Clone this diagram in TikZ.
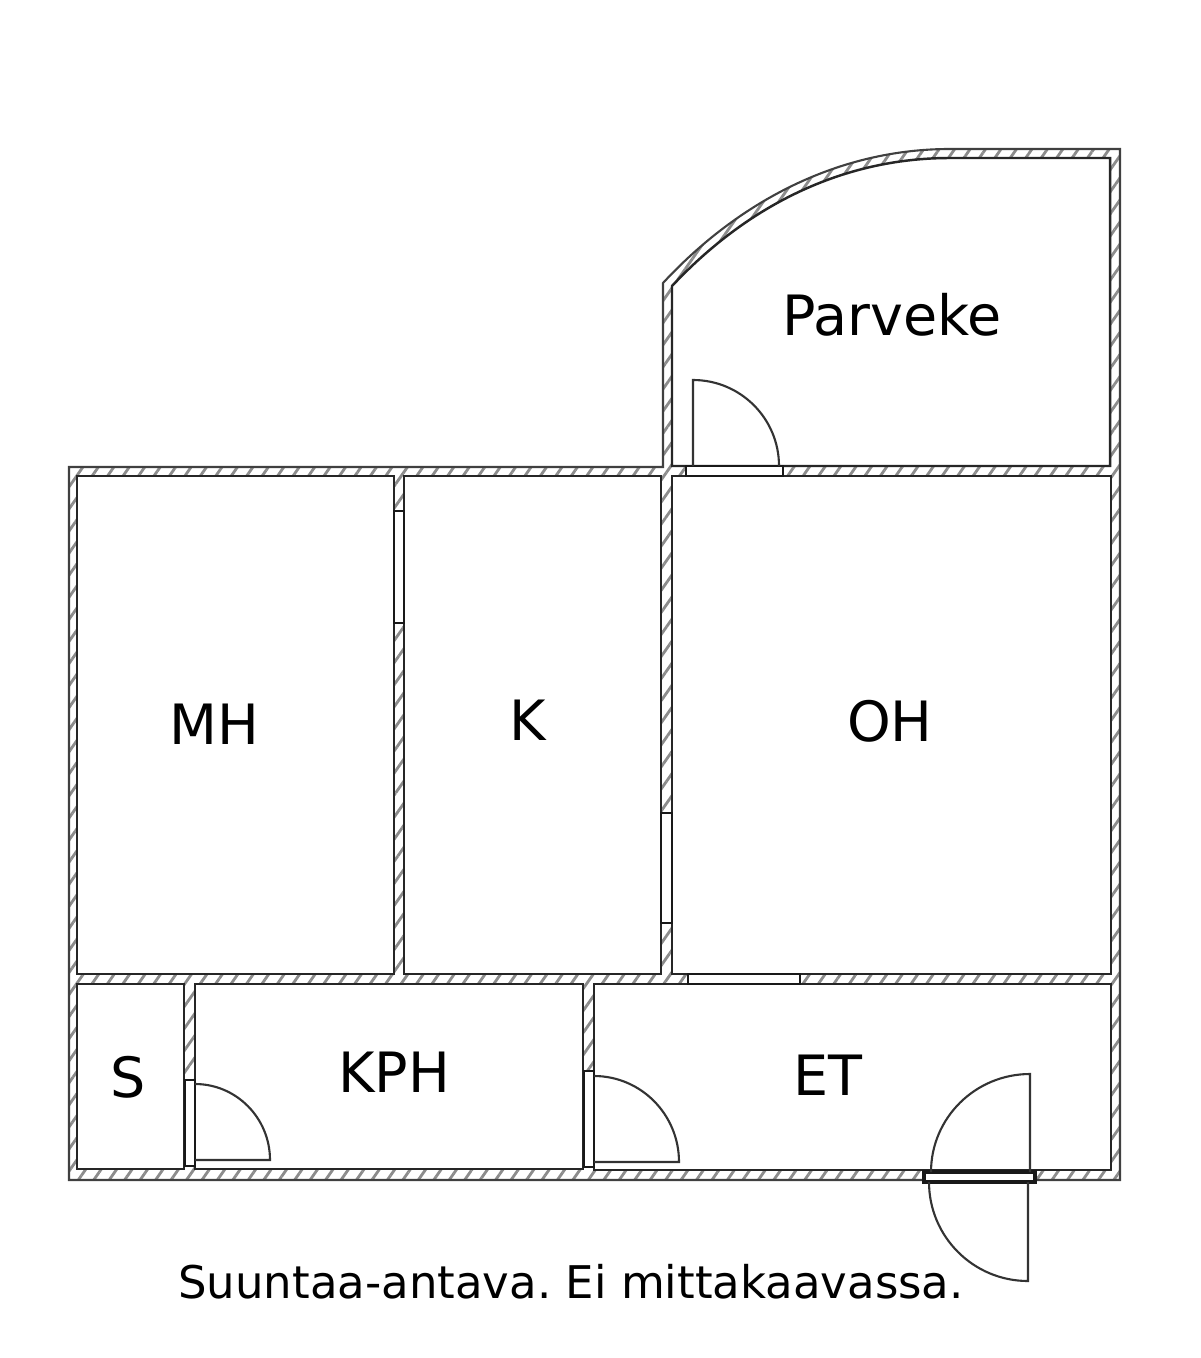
\documentclass[tikz,border=0pt]{standalone}
\usepackage{fontspec}
\setmainfont{DejaVu Sans}
\usetikzlibrary{patterns.meta}

\begin{document}
\begin{tikzpicture}[x=0.01cm, y=-0.01cm,
wall/.style={draw=black!75, line width=0.6pt, pattern={Lines[angle=55,distance=3.6pt,line width=0.8pt]}, pattern color=black!45},
room/.style={draw=black!85, line width=0.7pt, fill=white},
opening/.style={draw=black!90, line width=0.8pt, fill=white},
swing/.style={draw=black!80, line width=0.6pt},
roomlabel/.style={font=\fontsize{15.8pt}{18pt}\selectfont, inner sep=0pt},
note/.style={font=\fontsize{12.8pt}{16pt}\selectfont\frenchspacing, inner sep=0pt}
]
\useasboundingbox (0,0) rectangle (1200,1358);

%draw walls
\path[wall] (69,467) -- (663,467) -- (663,283) .. controls (740,200) and (840,149) .. (950,149) -- (1120,149) -- (1120,1180) -- (69,1180) -- cycle;

%draw rooms
\path[room] (77,476) rectangle (394,974);
\path[room] (404,476) rectangle (661,974);
\path[room] (672,476) rectangle (1111,974);
\path[room] (77,984) rectangle (184,1169);
\path[room] (195,984) rectangle (583,1169);
\path[room] (594,984) rectangle (1111,1170);
\path[room] (672,286) .. controls (747,206) and (842,158) .. (950,158) -- (1110,158) -- (1110,466) -- (672,466) -- cycle;

%draw openings
\path[opening] (686,466) rectangle (783,476);
\path[opening] (394,511) rectangle (404,623);
\path[opening] (661,813) rectangle (672,923);
\path[opening] (688,974) rectangle (800,984);
\path[opening] (185,1080) rectangle (195,1166);
\path[opening] (584,1071) rectangle (594,1167);
\path[opening, line width=1.3pt] (924,1172) rectangle (1035,1182);

%draw door swings
\draw[swing] (693,466) -- (693,380) arc [start angle=90, end angle=0, x radius=86, y radius=-86];
\draw[swing] (195,1084) arc [start angle=90, end angle=0, x radius=75, y radius=-76] -- (195,1160);
\draw[swing] (594,1076) arc [start angle=90, end angle=0, x radius=85, y radius=-86] -- (594,1162);
\draw[swing] (1030,1172) -- (1030,1074) arc [start angle=90, end angle=180, x radius=99, y radius=-98];
\draw[swing] (1028,1182) -- (1028,1281) arc [start angle=-90, end angle=-180, x radius=99, y radius=-99];

%room labels
\node[roomlabel] (parveke) at (892,315) {Parveke};
\node[roomlabel] (mh) at (214,724) {MH};
\node[roomlabel] (k) at (528,720) {K};
\node[roomlabel] (oh) at (890,721) {OH};
\node[roomlabel] (kph) at (394,1072) {KPH};
\node[roomlabel] (s) at (128,1077) {S};
\node[roomlabel] (et) at (828,1075) {ET};
\node[note] (caption) at (571,1282) {Suuntaa-antava. Ei mittakaavassa.};

\end{tikzpicture}
\end{document}
